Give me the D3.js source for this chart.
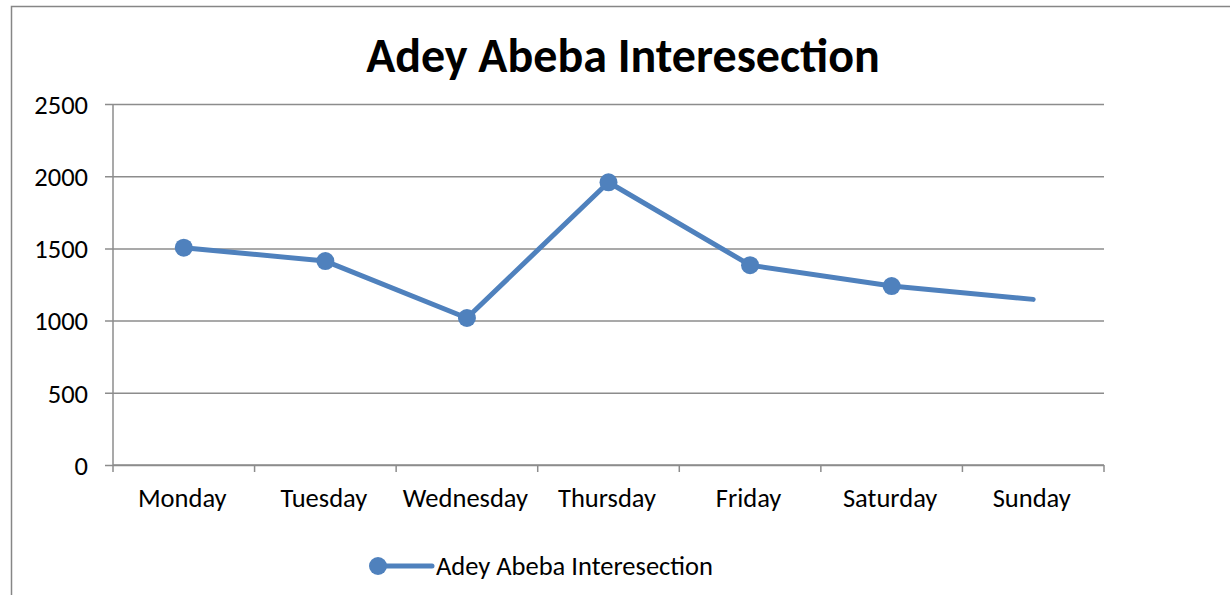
<!DOCTYPE html>
<html>
<head>
<meta charset="utf-8">
<script src="https://cdn.jsdelivr.net/npm/d3@7"></script>
<style>
    body { margin: 0; background: #fff; }
    text { font-family: Carlito, Lato, "Open Sans", sans-serif; fill: #000; }
</style>
</head>
<body>
<div id="chart"></div>
<script>
const chartTitle = 'Adey Abeba Interesection';
const days = ['Monday', 'Tuesday', 'Wednesday', 'Thursday', 'Friday', 'Saturday', 'Sunday'];
const counts = [1505, 1412, 1018, 1958, 1384, 1239, 1147];
const yTicks = [0, 500, 1000, 1500, 2000, 2500];
// Excel draws no marker on the last point
const showMarker = [true, true, true, true, true, true, false];

const width = 1230, height = 595;
const margin = {left: 113, right: 126, top: 104, bottom: 130};
const lineColor = '#4f81bd', gridColor = '#8c8c8c';
const labelSize = 26.5;

const svg = d3.select('#chart').append('svg')
    .attr('width', width)
    .attr('height', height);

// chart area border (runs off the right and bottom of the picture)
svg.append('rect')
    .attr('x', 11.5).attr('y', 6.5)
    .attr('width', width + 20).attr('height', height + 20)
    .attr('fill', 'none')
    .attr('stroke', '#868686')
    .attr('stroke-width', 1.5);

const xScale = d3.scaleBand()
    .domain(days)
    .range([margin.left, width - margin.right]);

const yScale = d3.scaleLinear()
    .domain([0, 2500])
    .range([height - margin.bottom, margin.top]);

// gridlines + y axis
const yAxis = d3.axisLeft(yScale)
    .tickValues(yTicks)
    .tickFormat(d3.format('d'))
    .tickSize(-(width - margin.left - margin.right))
    .tickSizeOuter(0)
    .tickPadding(25);

const gY = svg.append('g')
    .attr('transform', `translate(${margin.left},0)`)
    .call(yAxis);
gY.select('.domain').remove();
gY.selectAll('.tick line')
    .attr('x1', -8)
    .attr('stroke', gridColor)
    .attr('stroke-width', 1.5);
gY.selectAll('.tick text')
    .attr('font-size', labelSize)
    .attr('dy', '0.35em');

// vertical axis line
svg.append('line')
    .attr('x1', margin.left).attr('x2', margin.left)
    .attr('y1', yScale(2500)).attr('y2', yScale(0) + 7)
    .attr('stroke', gridColor)
    .attr('stroke-width', 1.5);

// x axis with ticks between categories
const boundaries = days.map(d => xScale(d)).concat([xScale.range()[1]]);
const gX = svg.append('g')
    .attr('transform', `translate(0,${yScale(0)})`);
gX.append('line')
    .attr('x1', margin.left).attr('x2', width - margin.right)
    .attr('stroke', gridColor).attr('stroke-width', 1.5);
gX.selectAll('.xtick')
    .data(boundaries.slice(1))
    .enter().append('line')
    .attr('class', 'xtick')
    .attr('x1', d => d).attr('x2', d => d)
    .attr('y1', 0).attr('y2', 7)
    .attr('stroke', gridColor).attr('stroke-width', 1.5);
gX.selectAll('.xlabel')
    .data(days)
    .enter().append('text')
    .attr('class', 'xlabel')
    .attr('x', d => xScale(d) + xScale.bandwidth() / 2 - 1.5)
    .attr('y', 42)
    .attr('text-anchor', 'middle')
    .attr('font-size', labelSize)
    .text(d => d);

// series
const points = days.map((d, i) => ({day: d, value: counts[i], marker: showMarker[i]}));
const line = d3.line()
    .x(d => xScale(d.day) + xScale.bandwidth() / 2)
    .y(d => yScale(d.value));

svg.append('path')
    .datum(points)
    .attr('d', line)
    .attr('fill', 'none')
    .attr('stroke', lineColor)
    .attr('stroke-width', 5)
    .attr('stroke-linejoin', 'round')
    .attr('stroke-linecap', 'round');

svg.selectAll('.marker')
    .data(points.filter(d => d.marker))
    .enter().append('circle')
    .attr('class', 'marker')
    .attr('cx', d => xScale(d.day) + xScale.bandwidth() / 2)
    .attr('cy', d => yScale(d.value))
    .attr('r', 9)
    .attr('fill', lineColor);

// title
svg.append('text')
    .attr('x', 623)
    .attr('y', 72)
    .attr('text-anchor', 'middle')
    .attr('font-size', 48)
    .attr('font-weight', 'bold')
    .text(chartTitle);

// legend
const legend = svg.append('g').attr('transform', 'translate(378,566)');
legend.append('line')
    .attr('x1', 0).attr('x2', 54)
    .attr('stroke', lineColor)
    .attr('stroke-width', 5)
    .attr('stroke-linecap', 'round');
legend.append('circle')
    .attr('r', 9)
    .attr('fill', lineColor);
legend.append('text')
    .attr('x', 58)
    .attr('y', 9)
    .attr('font-size', labelSize)
    .text(chartTitle);
</script>
</body>
</html>
